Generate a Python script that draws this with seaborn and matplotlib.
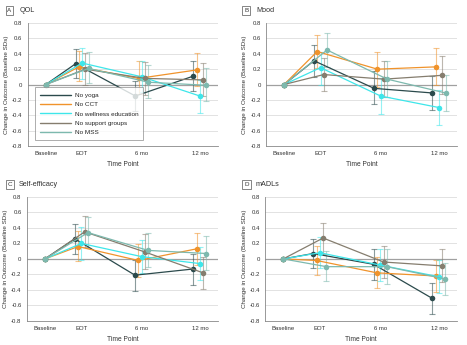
import numpy as np
import pandas as pd
import matplotlib
matplotlib.use("Agg")
import matplotlib.pyplot as plt
import seaborn as sns

# data
time_points = ["Baseline", "EOT", "6 mo", "12 mo"]
time_pos = [0, 1, 2.65, 4.25]
series = ["No yoga", "No CCT", "No wellness education", "No support groups", "No MSS"]
colors = ["#2b4a4c", "#f0932b", "#3ee6ea", "#857d6e", "#7db9ae"]

panels = ["QOL", "Mood", "Self-efficacy", "mADLs"]
letters = ["A", "B", "C", "D"]

# estimates per panel, per series (Baseline, EOT, 6 mo, 12 mo)
qol_est = [[0, 0.27, -0.15, 0.11], [0, 0.23, 0.08, 0.19], [0, 0.28, 0.10, -0.15],
           [0, 0.20, 0.08, 0.06], [0, 0.21, 0.03, -0.01]]
qol_lo = [[0, 0.08, -0.35, -0.09], [0, 0.05, -0.12, -0.02], [0, 0.07, -0.10, -0.37],
          [0, 0.00, -0.13, -0.15], [0, 0.02, -0.18, -0.21]]
qol_hi = [[0, 0.46, 0.05, 0.31], [0, 0.44, 0.30, 0.41], [0, 0.48, 0.30, 0.06],
          [0, 0.41, 0.29, 0.28], [0, 0.43, 0.26, 0.21]]

mood_est = [[0, 0.31, -0.05, -0.11], [0, 0.43, 0.20, 0.23], [0, 0.22, -0.15, -0.30],
            [0, 0.13, 0.07, 0.12], [0, 0.45, 0.07, -0.11]]
mood_lo = [[0, 0.10, -0.26, -0.33], [0, 0.22, -0.03, 0.00], [0, 0.00, -0.38, -0.53],
           [0, -0.09, -0.16, -0.12], [0, 0.23, -0.16, -0.34]]
mood_hi = [[0, 0.52, 0.17, 0.11], [0, 0.65, 0.43, 0.47], [0, 0.43, 0.08, -0.07],
           [0, 0.34, 0.30, 0.37], [0, 0.67, 0.31, 0.13]]

se_est = [[0, 0.26, -0.21, -0.13], [0, 0.16, -0.02, 0.13], [0, 0.20, 0.03, -0.06],
          [0, 0.35, 0.09, -0.18], [0, 0.34, 0.11, 0.07]]
se_lo = [[0, 0.07, -0.41, -0.34], [0, -0.03, -0.23, -0.08], [0, -0.01, -0.18, -0.27],
         [0, 0.15, -0.13, -0.39], [0, 0.14, -0.11, -0.14]]
se_hi = [[0, 0.45, -0.01, 0.07], [0, 0.36, 0.19, 0.34], [0, 0.41, 0.25, 0.16],
         [0, 0.55, 0.32, 0.03], [0, 0.54, 0.34, 0.29]]

madl_est = [[0, 0.07, -0.07, -0.51], [0, -0.02, -0.18, -0.22], [0, 0.08, -0.08, -0.23],
            [0, 0.27, -0.04, -0.09], [0, -0.10, -0.10, -0.26]]
madl_lo = [[0, -0.12, -0.27, -0.71], [0, -0.21, -0.38, -0.43], [0, -0.12, -0.28, -0.44],
           [0, 0.07, -0.25, -0.30], [0, -0.29, -0.32, -0.47]]
madl_hi = [[0, 0.26, 0.13, -0.31], [0, 0.17, 0.02, -0.01], [0, 0.28, 0.13, -0.02],
           [0, 0.47, 0.17, 0.13], [0, 0.10, 0.13, -0.05]]

all_est = [qol_est, mood_est, se_est, madl_est]
all_lo = [qol_lo, mood_lo, se_lo, madl_lo]
all_hi = [qol_hi, mood_hi, se_hi, madl_hi]

rows = []
for p, name in enumerate(panels):
    for s, ser in enumerate(series):
        for t, tp in enumerate(time_points):
            off = 0 if t == 0 else (s - 2) * 0.09
            rows.append(dict(panel=name, series=ser, time=tp, x=time_pos[t] + off,
                             est=all_est[p][s][t], lo=all_lo[p][s][t], hi=all_hi[p][s][t]))
df = pd.DataFrame(rows)

sns.set_theme(style="white")
plt.rcParams["font.family"] = ["Liberation Sans", "DejaVu Sans"]

fig = plt.figure(figsize=(4.67, 3.45), dpi=100)
rects = [[0.06, 0.577, 0.407, 0.356], [0.570, 0.577, 0.409, 0.356],
         [0.058, 0.070, 0.409, 0.359], [0.568, 0.070, 0.411, 0.359]]
title_y = [0.970, 0.970, 0.465, 0.465]
title_x = [0.016, 0.523, 0.016, 0.523]
palette = dict(zip(series, colors))

for i, name in enumerate(panels):
    ax = fig.add_axes(rects[i])
    d = df[df.panel == name]
    for ser in series:
        ds = d[d.series == ser]
        ax.errorbar(ds.x[1:], ds.est[1:], yerr=[ds.est[1:] - ds.lo[1:], ds.hi[1:] - ds.est[1:]],
                    fmt="none", ecolor=palette[ser], alpha=0.55, elinewidth=0.8,
                    capsize=2.2, capthick=0.8, zorder=2)
    for yv in np.arange(-0.8, 0.81, 0.2):
        ax.axhline(yv, color="#dddddd", lw=0.6, zorder=0)
    ax.axhline(0, color="#a0a0a0", lw=0.9, zorder=1)
    sns.lineplot(data=d, x="x", y="est", hue="series", hue_order=series, palette=palette,
                 marker="o", markersize=4, markeredgewidth=0, linewidth=0.9,
                 sort=False, estimator=None, ax=ax, legend=(i == 0), zorder=3)
    ax.set_xlim(-0.49, 4.75)
    ax.set_ylim(-0.8, 0.8)
    ax.set_xticks(time_pos)
    ax.set_xticklabels(time_points)
    yt = np.round(np.arange(-0.8, 0.81, 0.2), 1)
    ax.set_yticks(yt)
    ax.set_yticklabels(["0" if v == 0 else f"{v:.1f}" for v in yt])
    ax.tick_params(axis="both", labelsize=4.3, colors="#333333", length=2, width=0.5, pad=2)
    for sp in ["top", "right"]:
        ax.spines[sp].set_visible(False)
    for sp in ["left", "bottom"]:
        ax.spines[sp].set_color("#888888")
        ax.spines[sp].set_linewidth(0.6)
    ax.set_xlabel("Time Point", fontsize=4.8, color="#333333", labelpad=3)
    ax.set_ylabel("Change in Outcome (Baseline SDs)", fontsize=4.5, color="#333333", labelpad=2)
    if i == 0:
        leg = ax.legend(loc="lower left", bbox_to_anchor=(0.02, 0.02), fontsize=4.6,
                        frameon=True, fancybox=False, edgecolor="#888888", handlelength=4.8,
                        borderpad=0.8, labelspacing=0.6, handletextpad=0.6)
        leg.get_frame().set_linewidth(0.6)
        for h in leg.legend_handles:
            h.set_marker("")
            h.set_linewidth(1.0)
    fig.text(title_x[i], title_y[i], letters[i], fontsize=4.5, color="#333333", va="center",
             bbox=dict(boxstyle="square,pad=0.3", fc="white", ec="#555555", lw=0.5))
    fig.text(title_x[i] + 0.025, title_y[i], name, fontsize=5.2, color="#333333", va="center")

fig.savefig("out.png", dpi=100)
